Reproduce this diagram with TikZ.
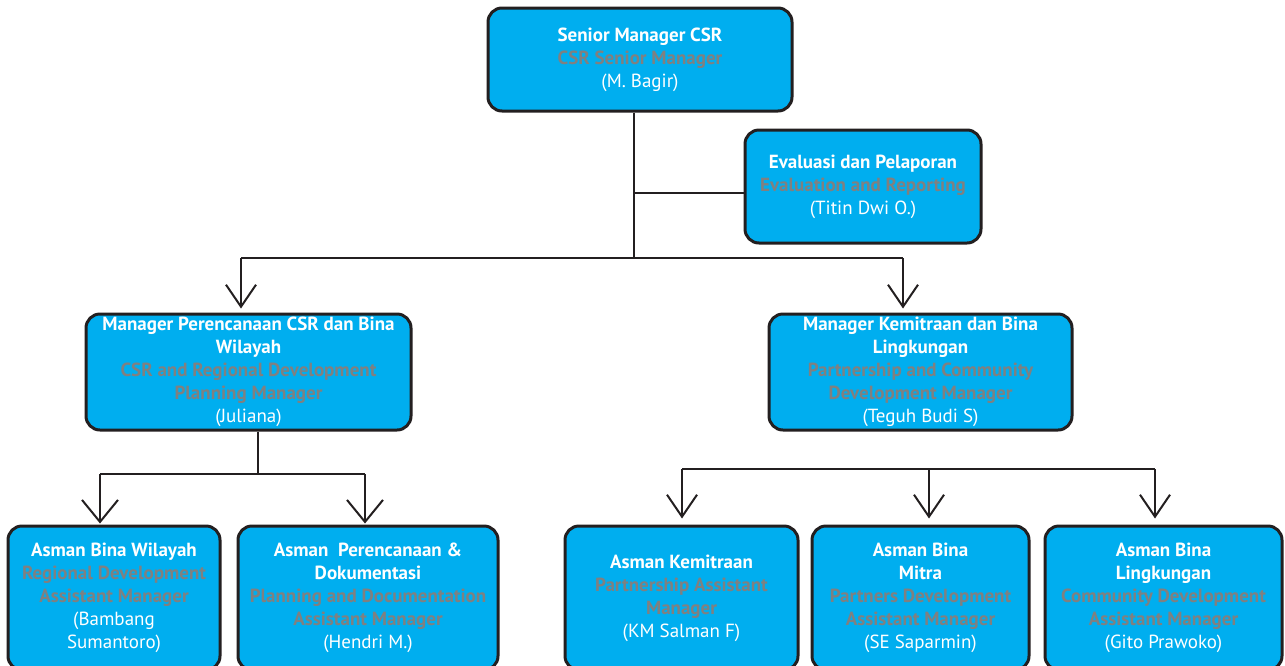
\documentclass[tikz,border=0pt]{standalone}
\usepackage{fontspec}
\setmainfont{PT Sans}
\usetikzlibrary{arrows.meta}
\definecolor{boxblue}{RGB}{0,174,239}
\definecolor{engrey}{RGB}{128,128,128}
\definecolor{edge}{RGB}{35,31,32}
\newcommand{\idn}[1]{\textbf{#1}}
\newcommand{\eng}[1]{\textcolor{engrey}{\bfseries #1}}
\tikzset{
  unit/.style={draw=edge,line width=3pt,fill=boxblue,rounded corners=14pt,text=white,
    align=center,inner sep=2pt,font=\fontsize{19}{23}\selectfont},
  link/.style={draw=edge,line width=2pt},
  down/.style={link,-{Straight Barb[length=22pt,width=#1]}},
  down/.default=30pt
}
\begin{document}
\begin{tikzpicture}[x=1pt,y=-1pt]
  \useasboundingbox (0,0) rectangle (1285,665);
  % top level
  \node[unit,minimum width=304pt,minimum height=103pt](sm)at(640,59.5){\idn{Senior Manager CSR}\\\eng{CSR Senior Manager}\\(M. Bagir)};
  \node[unit,minimum width=236pt,minimum height=113pt](ev)at(863,186.5){\idn{Evaluasi dan Pelaporan}\\\eng{Evaluation and Reporting}\\(Titin Dwi O.)};
  % managers
  \node[unit,minimum width=325pt,minimum height=116pt](mp)at(248.5,372){\idn{Manager Perencanaan CSR dan Bina}\\\idn{Wilayah}\\\eng{CSR and Regional Development}\\\eng{Planning Manager}\\(Juliana)};
  \node[unit,minimum width=303pt,minimum height=116pt](mk)at(920.5,372){\idn{Manager Kemitraan dan Bina}\\\idn{Lingkungan}\\\eng{Partnership and Community}\\\eng{Development Manager}\\(Teguh Budi S)};
  % assistant managers
  \node[unit,minimum width=212pt,minimum height=144pt](b1)at(114,598){\idn{Asman Bina Wilayah}\\\eng{Regional Development}\\\eng{Assistant Manager}\\(Bambang\\Sumantoro)};
  \node[unit,minimum width=260pt,minimum height=144pt](b2)at(368,598){\idn{Asman~ Perencanaan \&}\\\idn{Dokumentasi}\\\eng{Planning and Documentation}\\\eng{Assistant Manager}\\(Hendri M.)};
  \node[unit,minimum width=233pt,minimum height=144pt](b3)at(681.5,598){\idn{Asman Kemitraan}\\\eng{Partnership Assistant}\\\eng{Manager}\\(KM Salman F)};
  \node[unit,minimum width=217pt,minimum height=144pt](b4)at(920.5,598){\idn{Asman Bina}\\\idn{Mitra}\\\eng{Partners Development}\\\eng{Assistant Manager}\\(SE Saparmin)};
  \node[unit,minimum width=237pt,minimum height=144pt](b5)at(1163.5,598){\idn{Asman Bina}\\\idn{Lingkungan}\\\eng{Community Development}\\\eng{Assistant Manager}\\(Gito Prawoko)};
  % lines from the top
  \coordinate(t)at(634,258);
  \coordinate(e)at(634,193);
  \coordinate(l1)at(241,258);
  \coordinate(r1)at(903,258);
  \draw[link](sm.south -| t)--(t);
  \draw[link](e)--(e -| ev.west);
  \draw[link](l1)--(r1);
  \draw[down,shorten >=4pt](l1)--(l1 |- mp.north);
  \draw[down,shorten >=4pt](r1)--(r1 |- mk.north);
  % left branch
  \coordinate(l2)at(258,474);
  \coordinate(a1)at(100,474);
  \coordinate(a2)at(365,474);
  \draw[link](mp.south -| l2)--(l2);
  \draw[link](a1)--(a2);
  \draw[down=36pt,shorten >=1pt](a1)--(a1 |- b1.north);
  \draw[down=36pt,shorten >=1pt](a2)--(a2 |- b2.north);
  % right branch
  \coordinate(c1)at(682,469);
  \coordinate(c3)at(1155,469);
  \draw[link](c1)--(c3);
  \foreach \x/\b in {682/b3,929/b4,1155/b5}{
    \coordinate(c)at(\x,469);
    \draw[down,shorten >=6pt](c)--(c |- \b.north);
  }
\end{tikzpicture}
\end{document}
